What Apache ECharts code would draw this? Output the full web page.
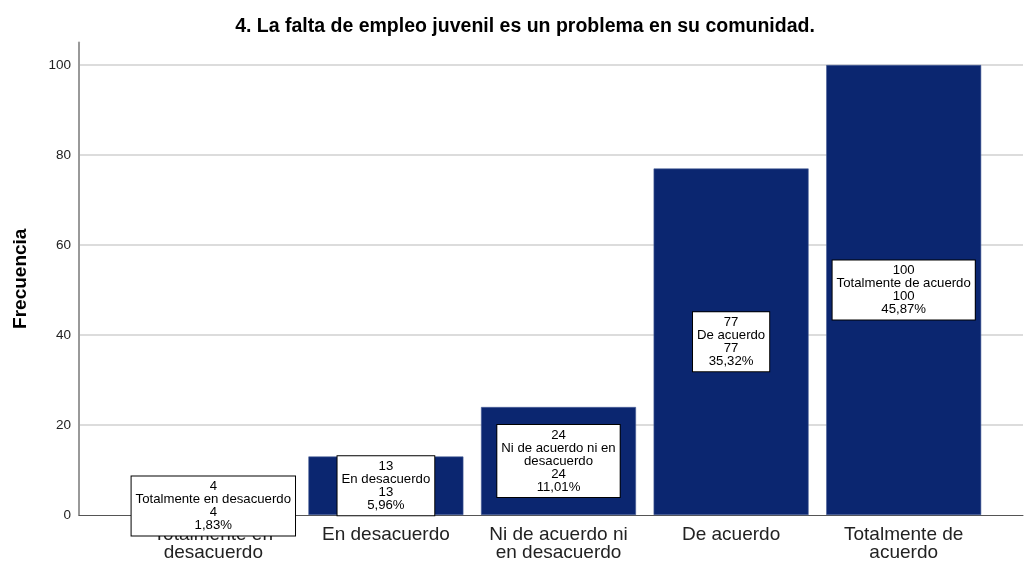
<!DOCTYPE html>
<html>
<head>
<meta charset="utf-8">
<script src="https://cdn.jsdelivr.net/npm/echarts@6/dist/echarts.min.js"></script>
<style>html,body{margin:0;padding:0;background:#fff}#c{width:1025px;height:563px}</style>
</head>
<body>
<div id="c"></div>
<script>
var titleText = '4. La falta de empleo juvenil es un problema en su comunidad.';
var categories = ['Totalmente en\ndesacuerdo', 'En desacuerdo', 'Ni de acuerdo ni\nen desacuerdo', 'De acuerdo', 'Totalmente de\nacuerdo'];
var labelNames = ['Totalmente en desacuerdo', 'En desacuerdo', 'Ni de acuerdo ni en\ndesacuerdo', 'De acuerdo', 'Totalmente de acuerdo'];
var counts = [4, 13, 24, 77, 100];
var percents = ['1,83%', '5,96%', '11,01%', '35,32%', '45,87%'];
var yTicks = [0, 20, 40, 60, 80, 100];

var font = 'Liberation Sans, Arial, sans-serif';
var chart = echarts.init(document.getElementById('c'));
chart.setOption({
  animation: false,
  title: {
    text: titleText, left: 520, top: 12, textAlign: 'center',
    textStyle: { fontFamily: font, fontSize: 19.5, fontWeight: 'bold', color: '#000' }
  },
  grid: [
    { left: 79, right: 2, top: 42.5, bottom: 48 },
    { left: 127, right: 35, top: 42.5, bottom: 48 }
  ],
  xAxis: [
    { type: 'value', gridIndex: 0, min: 0, max: 1, show: true,
      axisLine: { show: true, lineStyle: { color: '#555', width: 1 } },
      axisTick: { show: false }, axisLabel: { show: false }, splitLine: { show: false } },
    { type: 'category', gridIndex: 1, data: categories,
      axisLine: { show: false }, axisTick: { show: false },
      axisLabel: { fontFamily: font, fontSize: 19, color: '#222', lineHeight: 18, margin: 11, interval: 0 } }
  ],
  yAxis: [
    { type: 'value', gridIndex: 0, min: 0, max: 105, interval: 20,
      name: 'Frecuencia', nameLocation: 'middle', nameGap: 49, nameRotate: 90,
      nameTextStyle: { fontFamily: font, fontSize: 19, fontWeight: 'bold', color: '#000' },
      axisLine: { show: true, lineStyle: { color: '#999', width: 2 } },
      axisTick: { show: false },
      axisLabel: { fontFamily: font, fontSize: 13.5, color: '#222', margin: 8, showMaxLabel: false,
        formatter: function (v) { return yTicks.indexOf(v) >= 0 ? String(v) : ''; } },
      splitLine: { show: true, showMaxLine: false, showMinLine: false, lineStyle: { color: '#d0d0d0', width: 1.5 } } },
    { type: 'value', gridIndex: 1, min: 0, max: 105, interval: 20, show: false, splitLine: { show: false } }
  ],
  series: [{
    type: 'bar', xAxisIndex: 1, yAxisIndex: 1, data: counts, barWidth: 155,
    itemStyle: { color: '#0b2670', borderColor: '#4a5f98', borderWidth: 0.6 },
    label: {
      show: true, position: 'inside',
      formatter: function (p) {
        var i = p.dataIndex;
        return counts[i] + '\n' + labelNames[i] + '\n' + counts[i] + '\n' + percents[i];
      },
      fontFamily: font, fontSize: 13.2, lineHeight: 13, color: '#000',
      backgroundColor: '#fff', borderColor: '#000', borderWidth: 1, padding: [4, 4, 3, 4], align: 'center'
    },
    z: 5
  }]
});
</script>
</body>
</html>
